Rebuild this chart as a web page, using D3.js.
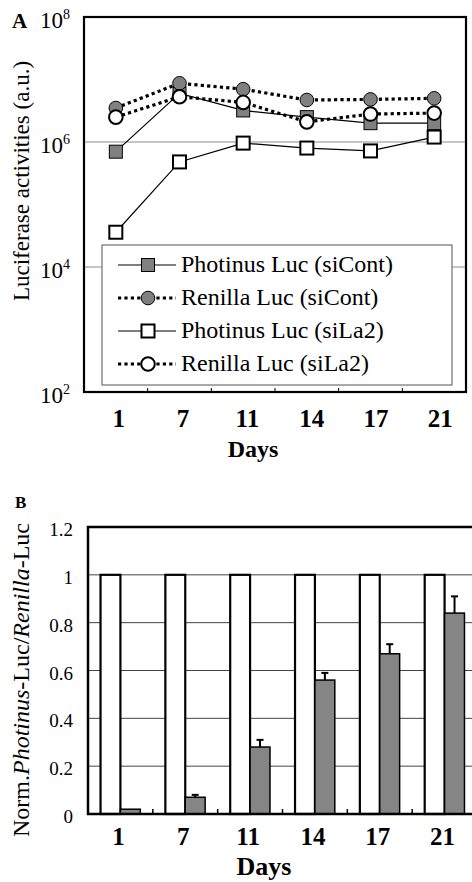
<!DOCTYPE html>
<html><head><meta charset="utf-8">
<script src="https://cdn.jsdelivr.net/npm/d3@7"></script>
<style>
html,body{margin:0;padding:0;background:#fff;}
svg{display:block;font-family:"Liberation Serif","Times New Roman",serif;}
</style></head>
<body>
<svg id="chart" width="472" height="882"></svg>
<script>
// ---------- data ----------
const days = ["1", "7", "11", "14", "17", "21"];
// Panel A (luciferase activities, a.u.)
const photinusSiCont = [7e5, 6e6, 3.2e6, 2.5e6, 2.0e6, 2.0e6];
const renillaSiCont  = [3.5e6, 8.7e6, 7.0e6, 4.7e6, 4.8e6, 5.0e6];
const photinusSiLa2  = [3.6e4, 4.8e5, 9.6e5, 8.0e5, 7.2e5, 1.2e6];
const renillaSiLa2   = [2.5e6, 5.3e6, 4.3e6, 2.1e6, 2.8e6, 2.9e6];
const seriesNamesA = ["Photinus Luc (siCont)", "Renilla Luc (siCont)", "Photinus Luc (siLa2)", "Renilla Luc (siLa2)"];
const yTickExpA = [2, 4, 6, 8];
// Panel B (normalised ratio)
const normSiCont = [1, 1, 1, 1, 1, 1];
const normSiLa2  = [0.02, 0.07, 0.28, 0.56, 0.67, 0.84];
const errSiLa2   = [0.0, 0.01, 0.03, 0.03, 0.04, 0.07];
const yTicksB = [0, 0.2, 0.4, 0.6, 0.8, 1, 1.2];

const svg = d3.select("#chart");

// ================= Panel A =================
const A = {left: 84, right: 466, top: 17, bottom: 392};
const xA = d3.scaleBand().domain(days).range([A.left, A.right]);
const yA = d3.scaleLog().domain([1e2, 1e8]).range([A.bottom, A.top]);
const gA = svg.append("g");

// gridlines
gA.selectAll("line.grid").data(yTickExpA.filter(e => e > 2 && e < 8)).join("line")
  .attr("x1", A.left).attr("x2", A.right)
  .attr("y1", e => yA(Math.pow(10, e))).attr("y2", e => yA(Math.pow(10, e)))
  .attr("stroke", "#8c8c8c").attr("stroke-width", 1);

// y tick labels 10^n
const tl = gA.selectAll("text.ytick").data(yTickExpA).join("text")
  .attr("x", 70).attr("y", e => yA(Math.pow(10, e)) + 11)
  .attr("text-anchor", "end").attr("font-size", 23);
tl.append("tspan").text("10");
tl.append("tspan").attr("font-size", 14).attr("dy", -9).text(e => e);

// panel letter
gA.append("text").attr("x", 12).attr("y", 28).attr("font-size", 21).attr("font-weight", "bold").text("A");

// y axis title
gA.append("text").attr("transform", "translate(29,181) rotate(-90)")
  .attr("text-anchor", "middle").attr("font-size", 23).text("Luciferase activities (a.u.)");

// x tick marks (band boundaries, inward)
gA.selectAll("line.xt").data(days.slice(1)).join("line")
  .attr("x1", d => xA(d)).attr("x2", d => xA(d))
  .attr("y1", A.bottom).attr("y2", A.bottom - 4)
  .attr("stroke", "#000").attr("stroke-width", 1);

// x tick labels
gA.selectAll("text.xl").data(days).join("text")
  .attr("x", (d, i) => xA(d) + xA.bandwidth() / 2 + 3 + i * 0.6).attr("y", 427)
  .attr("text-anchor", "middle").attr("font-size", 25).attr("font-weight", "bold").text(d => d);
gA.append("text").attr("x", 253).attr("y", 457).attr("text-anchor", "middle")
  .attr("font-size", 24).attr("font-weight", "bold").text("Days");

// series definitions
const seriesA = [
  {name: seriesNamesA[0], vals: photinusSiCont, marker: "square", fill: "#808080", dotted: false},
  {name: seriesNamesA[1], vals: renillaSiCont, marker: "circle", fill: "#808080", dotted: true},
  {name: seriesNamesA[2], vals: photinusSiLa2, marker: "square", fill: "#fff", dotted: false},
  {name: seriesNamesA[3], vals: renillaSiLa2, marker: "circle", fill: "#fff", dotted: true}
];
const cx = d => xA(d) + xA.bandwidth() / 2;
const line = d3.line().x(p => cx(p.d)).y(p => yA(p.v));

function styleLine(sel, s) {
  if (s.dotted) sel.attr("stroke-width", 3.2).attr("stroke-dasharray", "3.2,3.2");
  else sel.attr("stroke-width", 1.2);
  return sel.attr("stroke", "#000").attr("fill", "none");
}
function drawMarker(g, s, x, y) {
  if (s.marker === "square") {
    g.append("rect").attr("x", x - 6.5).attr("y", y - 6.5).attr("width", 13).attr("height", 13)
      .attr("fill", s.fill).attr("stroke", "#000").attr("stroke-width", s.fill === "#fff" ? 2 : 1);
  } else {
    g.append("circle").attr("cx", x).attr("cy", y).attr("r", 6.8)
      .attr("fill", s.fill).attr("stroke", "#000").attr("stroke-width", s.fill === "#fff" ? 2 : 1);
  }
}

const linesG = gA.append("g");
seriesA.forEach(s => {
  styleLine(linesG.append("path").datum(days.map((d, i) => ({d, v: s.vals[i]}))).attr("d", line), s);
});
const markG = gA.append("g");
seriesA.forEach(s => {
  days.forEach((d, i) => drawMarker(markG, s, cx(d), yA(s.vals[i])));
});

// legend
const L = {x: 102, y: 245, w: 350, h: 140};
const lg = gA.append("g");
lg.append("rect").attr("x", L.x).attr("y", L.y).attr("width", L.w).attr("height", L.h)
  .attr("fill", "#fff").attr("stroke", "#555").attr("stroke-width", 1);
seriesA.forEach((s, i) => {
  const ly = 265 + i * 33;
  styleLine(lg.append("line").attr("x1", 118).attr("x2", 176).attr("y1", ly).attr("y2", ly), s);
  drawMarker(lg, s, 148, ly);
  lg.append("text").attr("x", 181).attr("y", ly + 7).attr("font-size", 24).text(s.name);
});

// frame
gA.append("rect").attr("x", A.left).attr("y", A.top).attr("width", A.right - A.left).attr("height", A.bottom - A.top)
  .attr("fill", "none").attr("stroke", "#000").attr("stroke-width", 2.2);

// ================= Panel B =================
const B = {left: 88, right: 477, top: 527, bottom: 814};
const xB = d3.scaleBand().domain(days).range([B.left, B.right]);
const xInner = d3.scaleBand().domain(["siCont", "siLa2"]).range([0, xB.bandwidth()]).paddingOuter(0.63);
const yB = d3.scaleLinear().domain([0, 1.2]).range([B.bottom, B.top]);
const gB = svg.append("g");

gB.selectAll("line.grid").data(yTicksB.filter(v => v > 0 && v < 1.2)).join("line")
  .attr("x1", B.left).attr("x2", B.right).attr("y1", d => yB(d)).attr("y2", d => yB(d))
  .attr("stroke", "#444").attr("stroke-width", 1);

gB.selectAll("text.yt").data(yTicksB).join("text")
  .attr("x", 73).attr("y", d => yB(d) + 9).attr("text-anchor", "end").attr("font-size", 19)
  .text(d => d3.format("~g")(d));

gB.append("text").attr("x", 15).attr("y", 508).attr("font-size", 17).attr("font-weight", "bold").text("B");

const yt = gB.append("text").attr("transform", "translate(29,680) rotate(-90)")
  .attr("text-anchor", "middle").attr("font-size", 24);
yt.append("tspan").text("Norm.");
yt.append("tspan").attr("font-style", "italic").text("Photinus");
yt.append("tspan").text("-Luc/");
yt.append("tspan").attr("font-style", "italic").text("Renilla");
yt.append("tspan").text("-Luc");

// bars
const barsG = gB.append("g");
barsG.selectAll("rect.c").data(days).join("rect")
  .attr("x", d => xB(d) + xInner("siCont")).attr("width", xInner.bandwidth())
  .attr("y", (d, i) => yB(normSiCont[i])).attr("height", (d, i) => yB(0) - yB(normSiCont[i]))
  .attr("fill", "#fff").attr("stroke", "#000").attr("stroke-width", 2.2);
barsG.selectAll("rect.l").data(days).join("rect")
  .attr("x", d => xB(d) + xInner("siLa2")).attr("width", xInner.bandwidth())
  .attr("y", (d, i) => yB(normSiLa2[i])).attr("height", (d, i) => yB(0) - yB(normSiLa2[i]))
  .attr("fill", "#858585").attr("stroke", "#000").attr("stroke-width", 1.5);
// error bars
const eb = gB.append("g").attr("stroke", "#000").attr("stroke-width", 2);
days.forEach((d, i) => {
  if (errSiLa2[i] <= 0) return;
  const x = xB(d) + xInner("siLa2") + xInner.bandwidth() / 2;
  eb.append("line").attr("x1", x).attr("x2", x).attr("y1", yB(normSiLa2[i])).attr("y2", yB(normSiLa2[i] + errSiLa2[i]));
  eb.append("line").attr("x1", x - 3.5).attr("x2", x + 3.5).attr("y1", yB(normSiLa2[i] + errSiLa2[i])).attr("y2", yB(normSiLa2[i] + errSiLa2[i]));
});

// x tick marks
gB.selectAll("line.xt").data(days.slice(1)).join("line")
  .attr("x1", d => xB(d)).attr("x2", d => xB(d)).attr("y1", B.bottom).attr("y2", B.bottom - 5)
  .attr("stroke", "#000").attr("stroke-width", 1.5);

gB.selectAll("text.xl").data(days).join("text")
  .attr("x", d => xB(d) + xB.bandwidth() / 2 - 2).attr("y", 845)
  .attr("text-anchor", "middle").attr("font-size", 25).attr("font-weight", "bold").text(d => d);
gB.append("text").attr("x", 264).attr("y", 875).attr("text-anchor", "middle")
  .attr("font-size", 26).attr("font-weight", "bold").text("Days");

// frame
gB.append("path").attr("d", `M${B.right},${B.top}H${B.left}V${B.bottom}H${B.right}`)
  .attr("fill", "none").attr("stroke", "#000").attr("stroke-width", 2.5);
gB.append("line").attr("x1", B.right - 2).attr("x2", B.right - 2).attr("y1", B.top).attr("y2", B.bottom)
  .attr("stroke", "#000").attr("stroke-width", 2.5);
</script>
</body></html>
